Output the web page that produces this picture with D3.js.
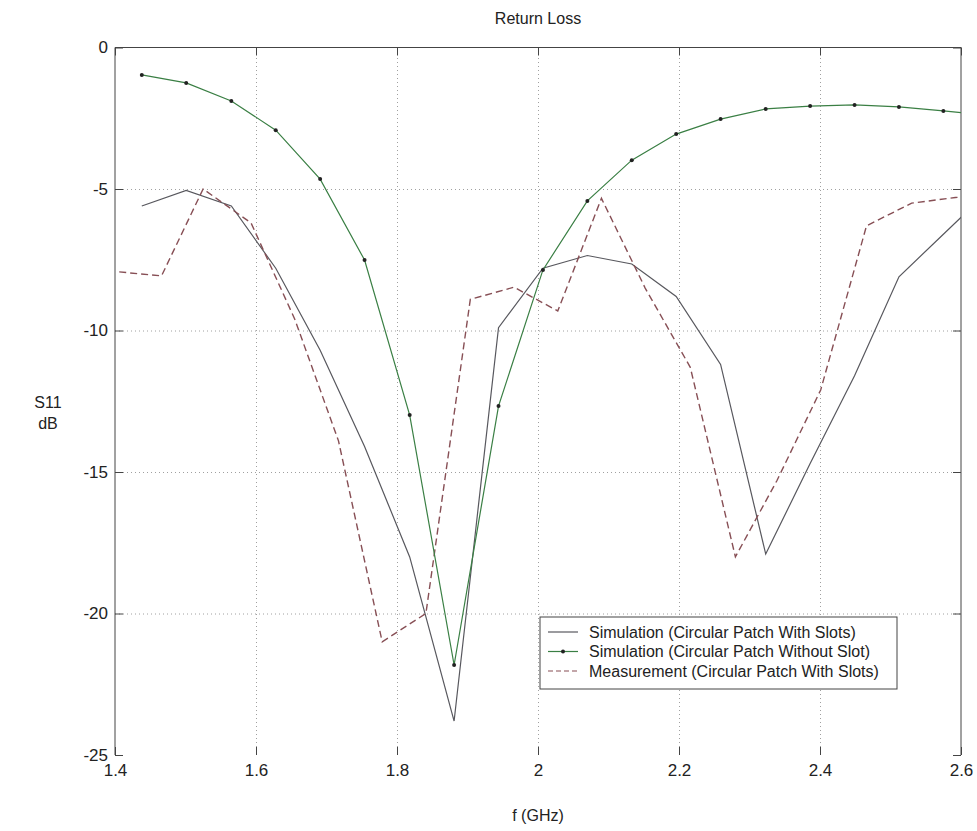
<!DOCTYPE html>
<html>
<head>
<meta charset="utf-8">
<script src="https://cdn.jsdelivr.net/npm/d3@7"></script>
<style>
  body { margin: 0; background: #fff; }
  svg { font-family: "Liberation Sans", Arial, sans-serif; }
</style>
</head>
<body>
<div id="main_chart"></div>
<script>
// frequency grids (GHz)
const simFreq = [1.438, 1.501, 1.565, 1.628, 1.691, 1.754, 1.818, 1.881, 1.944, 2.007,
  2.070, 2.133, 2.196, 2.259, 2.323, 2.386, 2.449, 2.512, 2.575, 2.638];
const measFreq = [1.406, 1.466, 1.525, 1.593, 1.655, 1.717, 1.779, 1.841, 1.904, 1.966,
  2.028, 2.090, 2.152, 2.216, 2.280, 2.339, 2.401, 2.466, 2.530, 2.592, 2.650];

// S11 values (dB)
const withSlots = [-5.6, -5.05, -5.6, -7.8, -10.7, -14.1, -18.0, -23.8, -9.9, -7.8,
  -7.35, -7.65, -8.8, -11.2, -17.9, -14.7, -11.6, -8.1, -6.6, -5.1];
const withoutSlot = [-0.97, -1.25, -1.89, -2.92, -4.65, -7.51, -12.99, -21.82, -12.67, -7.86,
  -5.42, -3.98, -3.06, -2.53, -2.17, -2.07, -2.03, -2.1, -2.24, -2.4];
const measured = [-7.93, -8.07, -5.0, -6.2, -9.6, -13.9, -21.0, -20.0, -8.9, -8.47,
  -9.31, -5.33, -8.5, -11.3, -18.0, -15.3, -12.1, -6.3, -5.5, -5.3, -5.2];

const xTicks = [1.4, 1.6, 1.8, 2.0, 2.2, 2.4, 2.6];
const yTicks = [-25, -20, -15, -10, -5, 0];
const legendLabels = [
  "Simulation (Circular Patch With Slots)",
  "Simulation (Circular Patch Without Slot)",
  "Measurement (Circular Patch With Slots)"
];

const width = 977;
const height = 831;
const marginTop = 47.5;
const marginRight = 16;
const marginBottom = 76;
const marginLeft = 115;

const xScale = d3.scaleLinear()
  .domain([1.4, 2.6])
  .range([marginLeft, width - marginRight]);

const yScale = d3.scaleLinear()
  .domain([-25, 0])
  .range([height - marginBottom, marginTop]);

const svg = d3.create("svg").attr("width", width).attr("height", height);

svg.append("defs").append("clipPath").attr("id", "plotclip")
  .append("rect")
  .attr("x", marginLeft).attr("y", marginTop)
  .attr("width", width - marginLeft - marginRight)
  .attr("height", height - marginTop - marginBottom);

// dotted grid
svg.append("g")
  .attr("class", "grid")
  .attr("transform", `translate(0,${height - marginBottom})`)
  .call(d3.axisBottom(xScale).tickValues(xTicks.slice(1, -1))
    .tickSize(-(height - marginTop - marginBottom)).tickFormat(""))
  .call((g) => g.select(".domain").remove());

svg.append("g")
  .attr("class", "grid")
  .attr("transform", `translate(${marginLeft},0)`)
  .call(d3.axisLeft(yScale).tickValues(yTicks.slice(1, -1))
    .tickSize(-(width - marginLeft - marginRight)).tickFormat(""))
  .call((g) => g.select(".domain").remove());

svg.selectAll(".grid line")
  .attr("stroke", "#a0a0a0")
  .attr("stroke-dasharray", "1,3");

// box lines (bottom edge is not visible in the reference)
svg.append("line")
  .attr("x1", xScale(1.4)).attr("x2", xScale(2.6))
  .attr("y1", yScale(0)).attr("y2", yScale(0))
  .attr("stroke", "#444");
svg.append("line")
  .attr("x1", xScale(1.4)).attr("x2", xScale(1.4))
  .attr("y1", yScale(0)).attr("y2", yScale(-25))
  .attr("stroke", "#444");
svg.append("line")
  .attr("x1", xScale(2.6)).attr("x2", xScale(2.6))
  .attr("y1", yScale(0)).attr("y2", yScale(-25))
  .attr("stroke", "#444");

// axes with inward ticks
const fmt = (d) => String(+d.toFixed(1));

svg.append("g")
  .attr("transform", `translate(0,${height - marginBottom})`)
  .call(d3.axisBottom(xScale).tickValues(xTicks).tickSizeInner(-8).tickSizeOuter(0)
    .tickPadding(9).tickFormat(fmt))
  .call((g) => g.select(".domain").remove());

svg.append("g")
  .attr("transform", `translate(0,${marginTop})`)
  .call(d3.axisTop(xScale).tickValues(xTicks).tickSizeInner(-8).tickSizeOuter(0).tickFormat(""))
  .call((g) => g.select(".domain").remove());

svg.append("g")
  .attr("transform", `translate(${marginLeft},0)`)
  .call(d3.axisLeft(yScale).tickValues(yTicks).tickSizeInner(-8).tickSizeOuter(0)
    .tickPadding(7).tickFormat(fmt))
  .call((g) => g.select(".domain").remove());

svg.append("g")
  .attr("transform", `translate(${width - marginRight},0)`)
  .call(d3.axisRight(yScale).tickValues(yTicks).tickSizeInner(-8).tickSizeOuter(0).tickFormat(""))
  .call((g) => g.select(".domain").remove());

svg.selectAll(".tick line:not(.grid .tick line)").attr("stroke", "#444");
svg.selectAll(".tick text")
  .attr("font-size", 17)
  .attr("fill", "#222")
  .attr("font-family", "Liberation Sans, Arial, sans-serif");

// lines
const plot = svg.append("g").attr("clip-path", "url(#plotclip)");

const line = d3.line()
  .x((p) => xScale(p[0]))
  .y((p) => yScale(p[1]));

plot.append("path")
  .attr("fill", "none")
  .attr("stroke", "#58585e")
  .attr("stroke-width", 1.2)
  .attr("d", line(d3.zip(simFreq, withSlots)));

plot.append("path")
  .attr("fill", "none")
  .attr("stroke", "#874f55")
  .attr("stroke-width", 1.4)
  .attr("stroke-dasharray", "7,4")
  .attr("d", line(d3.zip(measFreq, measured)));

plot.append("path")
  .attr("fill", "none")
  .attr("stroke", "#3a7f44")
  .attr("stroke-width", 1.2)
  .attr("d", line(d3.zip(simFreq, withoutSlot)));

plot.selectAll("circle.mk")
  .data(d3.zip(simFreq, withoutSlot))
  .join("circle")
  .attr("class", "mk")
  .attr("cx", (p) => xScale(p[0]))
  .attr("cy", (p) => yScale(p[1]))
  .attr("r", 2)
  .attr("fill", "#222");

// titles
svg.append("text")
  .attr("x", (marginLeft + width - marginRight) / 2)
  .attr("y", 24)
  .attr("text-anchor", "middle")
  .attr("font-size", 16)
  .attr("fill", "#222")
  .text("Return Loss");

svg.append("text")
  .attr("x", (marginLeft + width - marginRight) / 2)
  .attr("y", 821)
  .attr("text-anchor", "middle")
  .attr("font-size", 16)
  .attr("fill", "#222")
  .text("f (GHz)");

svg.append("text")
  .attr("x", 48)
  .attr("y", 408)
  .attr("text-anchor", "middle")
  .attr("font-size", 16)
  .attr("fill", "#222")
  .text("S11");

svg.append("text")
  .attr("x", 48)
  .attr("y", 429)
  .attr("text-anchor", "middle")
  .attr("font-size", 16)
  .attr("fill", "#222")
  .text("dB");

// legend
const legend = svg.append("g").attr("transform", "translate(540,617)");
legend.append("rect")
  .attr("width", 357).attr("height", 72)
  .attr("fill", "#fff")
  .attr("stroke", "#444");

const legendStyles = [
  { stroke: "#58585e", dash: null, marker: false },
  { stroke: "#3a7f44", dash: null, marker: true },
  { stroke: "#874f55", dash: "5,3", marker: false }
];

legendLabels.forEach((label, i) => {
  const y = 15 + i * 19.5;
  const s = legendStyles[i];
  legend.append("line")
    .attr("x1", 8).attr("x2", 38)
    .attr("y1", y).attr("y2", y)
    .attr("stroke", s.stroke)
    .attr("stroke-width", 1.2)
    .attr("stroke-dasharray", s.dash);
  if (s.marker) {
    legend.append("circle").attr("cx", 23).attr("cy", y).attr("r", 2).attr("fill", "#222");
  }
  legend.append("text")
    .attr("x", 49)
    .attr("y", y + 5.5)
    .attr("font-size", 16)
    .attr("fill", "#222")
    .text(label);
});

document.getElementById("main_chart").append(svg.node());
</script>
</body>
</html>
